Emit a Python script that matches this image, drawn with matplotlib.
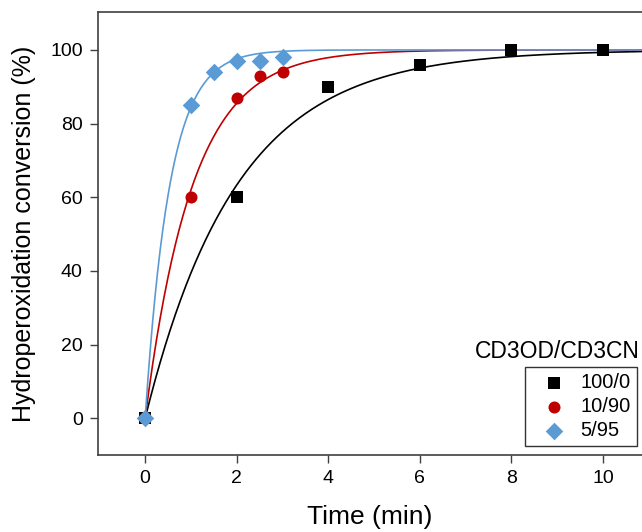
import numpy as np
import matplotlib
matplotlib.use("Agg")
import matplotlib.pyplot as plt

plt.rcParams['font.family'] = ['Liberation Sans', 'DejaVu Sans']

# Data
t_100_0 = [0, 2, 4, 6, 8, 10]
y_100_0 = [0, 60, 90, 96, 100, 100]
t_10_90 = [0, 1, 2, 2.5, 3]
y_10_90 = [0, 60, 87, 93, 94]
t_5_95 = [0, 1, 1.5, 2, 2.5, 3]
y_5_95 = [0, 85, 94, 97, 97, 98]
labels = ["100/0", "10/90", "5/95"]
colors = ["#000000", "#C00000", "#5B9BD5"]
markers = ["s", "o", "D"]
legend_title = "CD3OD/CD3CN"


def fit_k(t, y):
    t = np.asarray(t, float)
    y = np.asarray(y, float)
    ks = np.linspace(0.05, 5, 5000)
    err = [np.sum((y - 100 * (1 - np.exp(-k * t))) ** 2) for k in ks]
    return ks[int(np.argmin(err))]


fig = plt.figure(figsize=(6.42, 5.32), dpi=100)
ax = fig.add_axes([98 / 642, 77 / 532, 544 / 642, 443 / 532])

tt = np.linspace(0, 11, 400)
series = [(t_100_0, y_100_0), (t_10_90, y_10_90), (t_5_95, y_5_95)]
for (t, y), lab, c, m in zip(series, labels, colors, markers):
    k = fit_k(t, y)
    ax.plot(tt, 100 * (1 - np.exp(-k * tt)), color=c, lw=1.2, zorder=2)
for (t, y), lab, c, m in zip(series, labels, colors, markers):
    ax.scatter(t, y, marker=m, color=c, s=75 if m != "D" else 80,
               label=lab, zorder=3, linewidths=0)

ax.set_xlim(-1.03, 10.85)
ax.set_ylim(-10, 110.3)
ax.set_xticks([0, 2, 4, 6, 8, 10])
ax.set_yticks([0, 20, 40, 60, 80, 100])
ax.spines['right'].set_visible(False)
for s in ['left', 'bottom', 'top']:
    ax.spines[s].set_color('#404040')
    ax.spines[s].set_linewidth(1.2)
ax.tick_params(direction='out', length=6, width=1, colors='#404040',
               labelcolor='black', labelsize=14, pad=5)
ax.set_xlabel("Time (min)", fontsize=19, labelpad=13)
ax.set_ylabel("Hydroperoxidation conversion (%)", fontsize=18, labelpad=10)

leg = ax.legend(loc='lower right', fontsize=14.5,
                frameon=True, fancybox=False,
                edgecolor='black', borderpad=0.3, handlelength=2.2,
                handletextpad=0.25, labelspacing=0.25, borderaxespad=0,
                bbox_to_anchor=((637 - 98) / 544, 9 / 443),
                bbox_transform=ax.transAxes)
leg.get_frame().set_linewidth(1.0)
fig.text(640 / 642, (532 - 358) / 532, legend_title, ha='right',
         va='baseline', fontsize=16.5)

fig.savefig("out.png", dpi=100)
